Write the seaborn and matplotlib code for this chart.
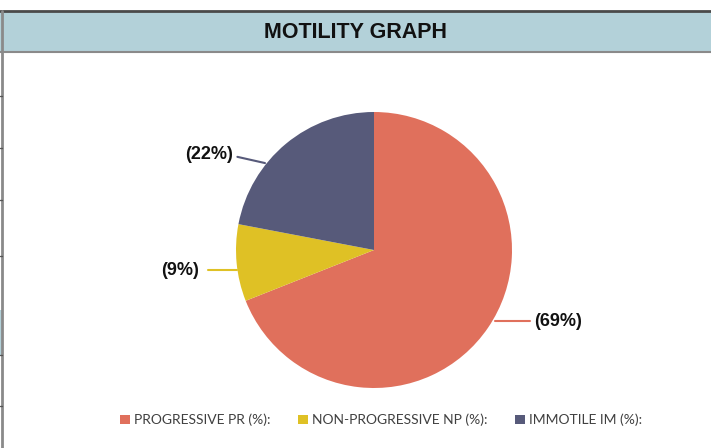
import matplotlib
matplotlib.use("Agg")
import matplotlib.pyplot as plt
import seaborn as sns
from matplotlib.patches import Rectangle
from matplotlib.lines import Line2D

categories = ["PROGRESSIVE PR (%):", "NON-PROGRESSIVE NP (%):", "IMMOTILE IM (%):"]
values = [69, 9, 22]
value_labels = ["(69%)", "(9%)", "(22%)"]
colors = ["#E0705C", "#DFC125", "#575A7A"]
title = "MOTILITY GRAPH"

sns.set_theme(style="white")
plt.rcParams["font.family"] = ["Liberation Sans", "DejaVu Sans"]

W, H = 711, 448
fig = plt.figure(figsize=(W / 100, H / 100), dpi=100)
fig.patch.set_facecolor("white")

def fx(x):
    return x / W

def fy(y):
    return 1 - y / H

# title band
fig.patches.append(Rectangle((fx(0), fy(53)), 1, (53 - 12) / H, transform=fig.transFigure,
                             facecolor="#B3D1D9", edgecolor="none", zorder=0))
fig.add_artist(Line2D([0, 1], [fy(11.5), fy(11.5)], transform=fig.transFigure, color="#4a4a4a", lw=2))
fig.add_artist(Line2D([0, 1], [fy(52.5), fy(52.5)], transform=fig.transFigure, color="#8a8a8a", lw=1.5))
fig.add_artist(Line2D([fx(2), fx(2)], [0, fy(11)], transform=fig.transFigure, color="#8a8a8a", lw=2))
for ty in [96, 148, 200, 256, 355, 406]:
    fig.add_artist(Line2D([0, fx(2)], [fy(ty), fy(ty)], transform=fig.transFigure, color="#555555", lw=1))
fig.patches.append(Rectangle((0, fy(355)), fx(2), 45 / H, transform=fig.transFigure,
                             facecolor="#B3D1D9", edgecolor="none"))
fig.text(0.5, fy(33), title, ha="center", va="center", fontsize=15.5, fontweight="bold", color="#111111")

# pie
cx, cy, r = 374, 250, 138
ax = fig.add_axes([fx(cx - r), fy(cy + r), 2 * r / W, 2 * r / H])
wedges, _ = ax.pie(values, colors=colors, startangle=90, counterclock=False,
                   wedgeprops=dict(linewidth=0))
ax.set_xlim(-1, 1)
ax.set_ylim(-1, 1)
ax.set_aspect("equal")
ax.axis("off")

# leader lines & labels (data units of the pie axes, radius = 1)
label_ha = ["left", "right", "right"]
label_y = [-0.515, -0.145, 0.69]
line_pts = [((0.88, -0.515), (1.13, -0.515)),
            ((-0.99, -0.145), (-1.20, -0.145)),
            ((-0.79, 0.63), (-0.99, 0.675))]
label_gap = [0.03, 0.07, 0.03]
for ha, ty, ((x0, y0), (x1, y1)), gap, lab, col in zip(label_ha, label_y, line_pts, label_gap,
                                                       value_labels, colors):
    ax.plot([x0, x1], [y0, y1], color=col, lw=1.5, clip_on=False)
    tx = x1 + gap if ha == "left" else x1 - gap
    ax.text(tx, ty, lab, ha=ha, va="center", fontsize=13, fontweight="bold", color="#111111")

leg = fig.legend(wedges, categories, ncol=3, loc="center", bbox_to_anchor=(fx(381), fy(420)),
                 frameon=False, handlelength=0.7, handleheight=0.7, handletextpad=0.3,
                 columnspacing=2.0, prop={"family": ["Lato", "DejaVu Sans"], "size": 10})
for t in leg.get_texts():
    t.set_color("#404040")

fig.savefig("out.png", dpi=100)
